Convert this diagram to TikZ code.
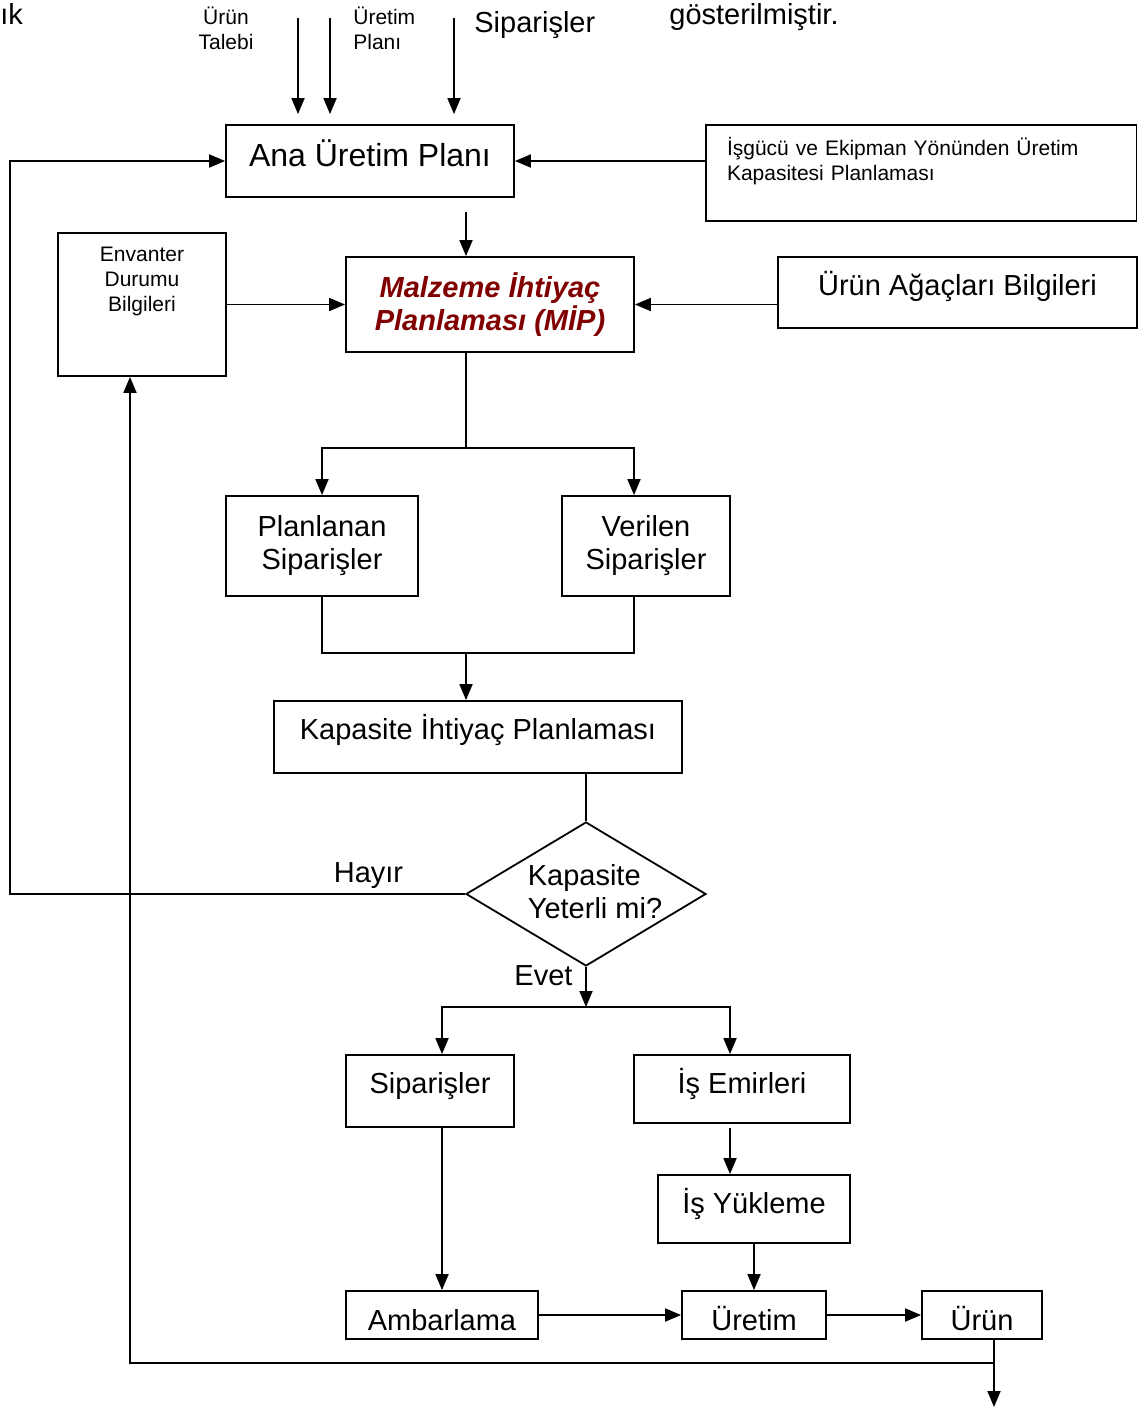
\documentclass[tikz,border=0pt]{standalone}
\usepackage{fontspec}
\setmainfont{Liberation Sans}
\usepackage{xcolor}
\usepackage{tikz}
\usetikzlibrary{
  arrows.meta,
  positioning,
  calc,
  shapes.geometric
}
\definecolor{mipred}{RGB}{128,0,0}
\newcommand{\fsbig}{\fontsize{14.5}{16.5}\selectfont}
\newcommand{\fsana}{\fontsize{16}{18}\selectfont}
\newcommand{\fslow}{\fontsize{10.5}{12.5}\selectfont}

\begin{document}
\begin{tikzpicture}[
  x=0.5pt, y=-0.5pt,
  every node/.style={font=\fsbig},
  box/.style={draw, line width=0.9pt, inner sep=0pt, align=center},
  lift/.style={text height=11pt, text depth=#1},
  low/.style={text height=15.4pt, text depth=0pt},
  dec/.style={diamond, draw, line width=0.9pt, inner sep=0pt, aspect=1.667,
    minimum width=120pt, minimum height=72pt},
  arr/.style={-{Triangle[length=8pt,width=6.5pt]}, line width=0.9pt},
  line/.style={line width=0.9pt},
  lab/.style={font=\fslow}
]
  \useasboundingbox (0,0) rectangle (1138,1409);

  % text of the page around the figure
  \node[anchor=base west, inner sep=0pt] (prev) at (0,24) {ık};
  \node[anchor=base west, inner sep=0pt] (next) at (669,24) {gösterilmiştir.};

  % inputs
  \node[lab, align=center, anchor=base, inner sep=0pt] (talep) at (226,49.5) {Ürün\\Talebi};
  \node[lab, align=left, anchor=base west, inner sep=0pt] (uplan) at (353,49.5) {Üretim\\Planı};
  \node[anchor=base west, inner sep=0pt] (sipin) at (474,32) {Siparişler};
  \coordinate (inA) at (298,18);
  \coordinate (inB) at (330,18);
  \coordinate (inC) at (454,18);

  % boxes
  \node[box, font=\fsana, minimum width=144pt, minimum height=36pt,
    text height=11pt, text depth=5.5pt] (ana) at (370,161) {Ana Üretim Planı};
  \node[box, lab, align=left, text width=194.25pt, inner xsep=10.5pt,
    minimum height=48pt, text depth=27pt] (isg) at (921.25,173)
    {İşgücü ve Ekipman Yönünden Üretim\\Kapasitesi Planlaması};
  \node[box, lab, minimum width=84pt, minimum height=71.5pt,
    text depth=25.7pt] (env) at (142,304.5) {Envanter\\Durumu\\Bilgileri};
  \node[box, font=\fsbig\bfseries\itshape, text=mipred, minimum width=144pt,
    minimum height=47.5pt] (mip) at (490,304.5) {Malzeme İhtiyaç\\Planlaması (MİP)};
  \node[box, lift=8.5pt, minimum width=179.5pt, minimum height=35.5pt] (agac)
    at (957.5,292.5) {Ürün Ağaçları Bilgileri};
  \node[box, minimum width=96pt, minimum height=50pt] (plan) at (322,546)
    {Planlanan\\Siparişler};
  \node[box, minimum width=84pt, minimum height=50pt] (ver) at (646,546)
    {Verilen\\Siparişler};
  \node[box, lift=8.5pt, minimum width=204pt, minimum height=36pt] (kap)
    at (478,737) {Kapasite İhtiyaç Planlaması};
  \node[dec] (dec) at (586,894) {};
  \node[align=left, inner sep=0pt] (dectxt) at (595,892) {Kapasite\\Yeterli mi?};
  \node[anchor=base, inner sep=0pt] (hayir) at (368.5,882) {Hayır};
  \node[anchor=base, inner sep=0pt] (evet) at (543.5,985) {Evet};
  \node[box, lift=8.5pt, minimum width=84pt, minimum height=36pt] (sip)
    at (430,1091) {Siparişler};
  \node[box, lift=6.5pt, minimum width=108pt, minimum height=34pt] (emir)
    at (742,1089) {İş Emirleri};
  \node[box, lift=6.5pt, minimum width=96pt, minimum height=34pt] (yuk)
    at (754,1209) {İş Yükleme};
  \node[box, low, minimum width=96pt, minimum height=24pt] (amb)
    at (442,1315) {Ambarlama};
  \node[box, low, minimum width=72pt, minimum height=24pt] (ure)
    at (754,1315) {Üretim};
  \node[box, low, minimum width=60pt, minimum height=24pt] (urun)
    at (982,1315) {Ürün};

  % junctions
  \coordinate (c1) at (466,448);
  \coordinate (c2) at (466,653);
  \coordinate (c3) at (586,1007);
  \coordinate (c4) at (994,1363);
  \coordinate (fb) at (10,0);
  \coordinate (out) at (994,1407);

  % connectors
  \draw[arr, shorten >=5pt] (inA) -- (inA |- ana.north);
  \draw[arr, shorten >=5pt] (inB) -- (inB |- ana.north);
  \draw[arr, shorten >=5pt] (inC) -- (inC |- ana.north);
  \draw[arr] (isg.west |- ana.east) -- (ana.east);
  \draw[arr] (dec.west) -- (dec.west -| fb) |- (ana.west);
  \draw[arr, shorten <=7pt] (ana.south -| c1) -- (c1 |- mip.north);
  \draw[arr] (env.east) -- (mip.west);
  \draw[arr] (agac.west |- mip.east) -- (mip.east);
  \draw[line] (mip.south -| c1) -- (c1);
  \draw[arr] (c1) -| (plan.north);
  \draw[arr] (c1) -| ([xshift=-6pt]ver.north);
  \draw[line] (plan.south) |- (c2) -| ([xshift=-6pt]ver.south);
  \draw[arr] (c2) -- (c2 |- kap.north);
  \draw[line] (kap.south -| dec.north) -- (dec.north);
  \draw[arr] (dec.south) -- (c3);
  \draw[arr] (c3) -| ([xshift=6pt]sip.north);
  \draw[arr] (c3) -| ([xshift=-6pt]emir.north);
  \draw[arr] ([xshift=6pt]sip.south) -- (amb.north);
  \draw[arr, shorten <=2pt] ([xshift=-6pt]emir.south) -- ([xshift=-12pt]yuk.north);
  \draw[arr] (yuk.south) -- (ure.north);
  \draw[arr] (amb.east) -- (ure.west);
  \draw[arr] (ure.east) -- (urun.west);
  \draw[arr] ([xshift=6pt]urun.south) -- (out);
  \draw[arr] (c4) -| ([xshift=-6pt]env.south);

\end{tikzpicture}
\end{document}
